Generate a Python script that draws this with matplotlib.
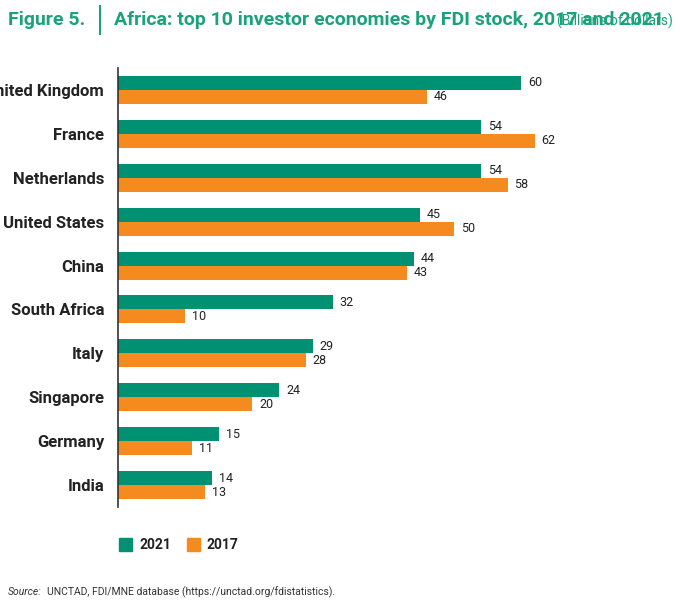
import matplotlib
matplotlib.use("Agg")
import matplotlib.pyplot as plt
from matplotlib.patches import Rectangle
import numpy as np

countries = ["United Kingdom", "France", "Netherlands", "United States", "China",
             "South Africa", "Italy", "Singapore", "Germany", "India"]
v2021 = [60, 54, 54, 45, 44, 32, 29, 24, 15, 14]
v2017 = [46, 62, 58, 50, 43, 10, 28, 20, 11, 13]

GREEN = "#009172"
ORANGE = "#F58A1F"
TITLE_GREEN = "#1AA27B"

plt.rcParams['font.family'] = ['Roboto', 'DejaVu Sans']
NARROW = ['Liberation Sans Narrow', 'Roboto', 'DejaVu Sans']
fig = plt.figure(figsize=(6.8, 6.07), dpi=100)
ax = fig.add_axes([118/680, 1-507/607, 528/680, (507-68)/607])

y = np.arange(len(countries))
h = 0.32
ax.barh(y - h/2, v2021, height=h, color=GREEN)
ax.barh(y + h/2, v2017, height=h, color=ORANGE)
for i in range(len(countries)):
    ax.text(v2021[i] + 1, y[i] - h/2, str(v2021[i]), va='center', ha='left', fontsize=9, color='#222')
    ax.text(v2017[i] + 1, y[i] + h/2, str(v2017[i]), va='center', ha='left', fontsize=9, color='#222')
ax.set_yticks(y)
ax.set_yticklabels(countries, fontsize=12, fontweight='bold', color='#222', family=NARROW)
ax.tick_params(axis='y', length=0, pad=10)
ax.set_xticks([])
ax.set_ylim(len(countries) - 0.5, -0.5)
ax.set_xlim(0, 528/6.72)
for s in ['top', 'right', 'bottom']:
    ax.spines[s].set_visible(False)
ax.spines['left'].set_color('#333')
ax.spines['left'].set_linewidth(1.2)

# title
fig.text(8/680, 1-20/607, "Figure 5.", color=TITLE_GREEN, fontsize=14, fontweight='bold', va='center', family=NARROW)
fig.add_artist(plt.Line2D([100/680, 100/680], [1-6/607, 1-34/607], color=TITLE_GREEN, lw=1.5))
fig.text(114/680, 1-20/607, "Africa: top 10 investor economies by FDI stock, 2017 and 2021",
         color=TITLE_GREEN, fontsize=14, fontweight='bold', va='center', family=NARROW)
fig.text(673/680, 1-21/607, "(Billions of dollars)", color=TITLE_GREEN, fontsize=10, va='center',
         ha='right', family=NARROW)

# legend
fig.add_artist(Rectangle((119/680, 1-551/607), 13/680, 13/607, color=GREEN, transform=fig.transFigure))
fig.text(139/680, 1-545/607, "2021", fontsize=10, fontweight='bold', va='center', color='#222')
fig.add_artist(Rectangle((187/680, 1-551/607), 13/680, 13/607, color=ORANGE, transform=fig.transFigure))
fig.text(207/680, 1-545/607, "2017", fontsize=10, fontweight='bold', va='center', color='#222')

fig.text(8/680, 1-592/607, "Source:", fontsize=7.5, style='italic', va='center', color='#333')
fig.text(47/680, 1-592/607, "UNCTAD, FDI/MNE database (https://unctad.org/fdistatistics).",
         fontsize=7.5, va='center', color='#333')

fig.savefig("out.png", dpi=100)
